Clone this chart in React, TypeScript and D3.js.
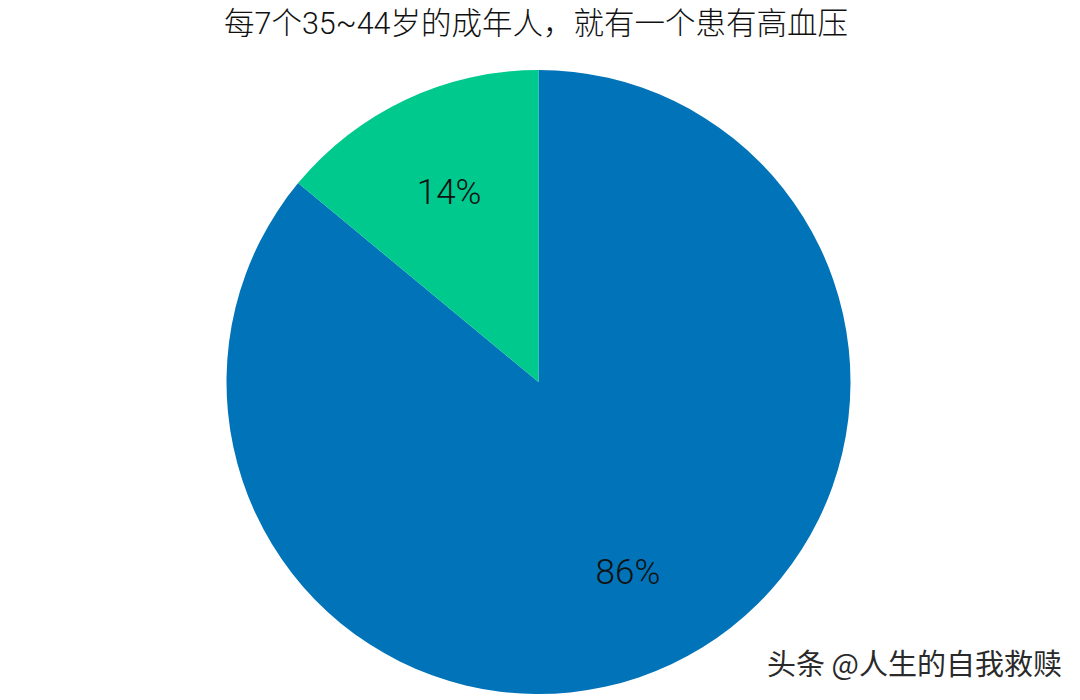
import React from "react";
import * as d3 from "d3";

const title = "每7个35~44岁的成年人，就有一个患有高血压";
const categories = ["未患高血压", "患有高血压"];
const values = [86, 14];
const labels = ["86%", "14%"];
const colors = ["#0173B8", "#00C98E"];
const watermark = "头条 @人生的自我救赎";

export default function App() {
  const W = 1080;
  const H = 700;
  const cx = 538.5;
  const cy = 382;
  const R = 312;
  const labelR = 210;

  const pie = d3
    .pie<number>()
    .sort(null)
    .value((d) => d)
    .startAngle(0)
    .endAngle(2 * Math.PI);
  const arcs = pie(values);
  const arc = d3.arc<d3.PieArcDatum<number>>().innerRadius(0).outerRadius(R);
  const labelArc = d3
    .arc<d3.PieArcDatum<number>>()
    .innerRadius(labelR)
    .outerRadius(labelR);

  return (
    <div style={{ position: "fixed", left: 0, top: 0, width: W, height: H, background: "#fff" }}>
      <svg width={W} height={H} style={{ display: "block" }}>
        <rect width={W} height={H} fill="#fff" />
        <text
          x={536}
          y={34}
          textAnchor="middle"
          fontFamily="Roboto, 'Noto Sans CJK SC', sans-serif"
          fontSize={30.5}
          fontWeight={300}
          fill="#111"
        >
          {title}
        </text>
        <g transform={`translate(${cx},${cy})`}>
          {arcs.map((a, i) => (
            <path key={categories[i]} d={arc(a) || ""} fill={colors[i]} />
          ))}
          {arcs.map((a, i) => {
            const [x, y] = labelArc.centroid(a);
            return (
              <text
                key={"l" + i}
                x={x}
                y={y}
                textAnchor="middle"
                dominantBaseline="central"
                fontFamily="Roboto, sans-serif"
                fontWeight={300}
                fontSize={35}
                fill="#111"
              >
                {labels[i]}
              </text>
            );
          })}
        </g>
        <text
          x={1062}
          y={675}
          textAnchor="end"
          fontFamily="'Noto Sans CJK SC', sans-serif"
          fontSize={29}
          fill="#2a2a2a"
          stroke="#fff"
          strokeWidth={0.6}
          paintOrder="stroke"
        >
          {watermark}
        </text>
      </svg>
    </div>
  );
}
